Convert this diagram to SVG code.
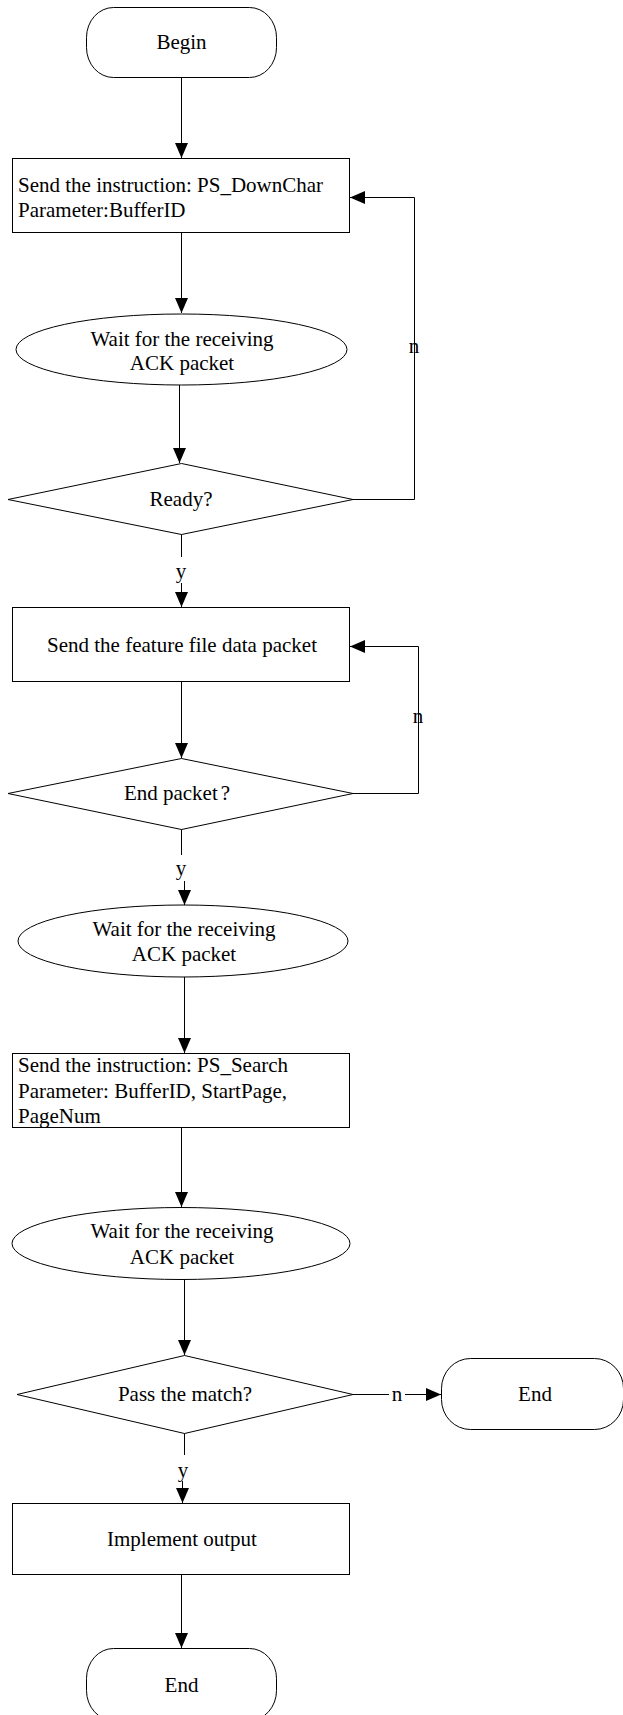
<svg xmlns="http://www.w3.org/2000/svg" width="623" height="1715" viewBox="0 0 623 1715">
<style>
.s{fill:#fff;stroke:#000;stroke-width:1}
.t{font-family:"Liberation Serif","Times New Roman",serif;font-size:21px;fill:#000}
.m{text-anchor:middle}
.c{fill:none;stroke:#000;stroke-width:1}
</style>
<defs>
<marker id="ah" markerUnits="userSpaceOnUse" markerWidth="15" markerHeight="13" refX="15" refY="6.5" orient="auto">
<path d="M0,0 L15,6.5 L0,13 z" fill="#000"/>
</marker>
</defs>
<rect width="623" height="1715" fill="#fff"/>
<g id="connectors">
<path class="c" d="M181.5,78 V158" marker-end="url(#ah)"/>
<path class="c" d="M181.5,233 V313" marker-end="url(#ah)"/>
<path class="c" d="M179.5,385 V463" marker-end="url(#ah)"/>
<path class="c" d="M181.5,534 V557"/>
<path class="c" d="M181.5,583 V607" marker-end="url(#ah)"/>
<text class="t m" x="181" y="578">y</text>
<path class="c" d="M353,499.5 H414.5 V338"/>
<path class="c" d="M414.5,357 V197.5 H350" marker-end="url(#ah)"/>
<text class="t m" x="414" y="353">n</text>
<path class="c" d="M181.5,682 V758" marker-end="url(#ah)"/>
<path class="c" d="M353,793.5 H418.5 V708"/>
<path class="c" d="M418.5,728 V646.5 H350" marker-end="url(#ah)"/>
<text class="t m" x="418" y="723">n</text>
<path class="c" d="M181.5,829 V855"/>
<path class="c" d="M184.5,881 V905" marker-end="url(#ah)"/>
<text class="t m" x="181" y="875">y</text>
<path class="c" d="M184.5,977 V1053" marker-end="url(#ah)"/>
<path class="c" d="M181.5,1128 V1207" marker-end="url(#ah)"/>
<path class="c" d="M184.5,1279 V1355" marker-end="url(#ah)"/>
<path class="c" d="M353,1394.5 H389"/>
<path class="c" d="M405,1394.5 H441" marker-end="url(#ah)"/>
<text class="t m" x="397" y="1401">n</text>
<path class="c" d="M184.5,1433 V1455"/>
<path class="c" d="M182.5,1481 V1503" marker-end="url(#ah)"/>
<text class="t m" x="183" y="1477">y</text>
<path class="c" d="M181.5,1575 V1648" marker-end="url(#ah)"/>
</g>
<g id="begin">
<rect class="s" x="86.5" y="7.5" width="190" height="70" rx="27" ry="30"/>
<text class="t m" x="181.5" y="49">Begin</text>
</g>
<g id="send-downchar">
<rect class="s" x="12.5" y="158.5" width="337" height="74"/>
<text class="t" x="18" y="192">Send the instruction: PS_DownChar</text>
<text class="t" x="18" y="217">Parameter:BufferID</text>
</g>
<g id="wait-ack-1">
<ellipse class="s" cx="181.5" cy="349.5" rx="165.5" ry="35.5"/>
<text class="t m" x="182" y="346">Wait for the receiving</text>
<text class="t m" x="182" y="370">ACK packet</text>
</g>
<g id="ready">
<polygon class="s" points="181.5,463.5 353,499.5 181.5,534.5 8,499.5"/>
<text class="t m" x="181" y="506">Ready?</text>
</g>
<g id="send-feature">
<rect class="s" x="12.5" y="607.5" width="337" height="74"/>
<text class="t m" x="182" y="652">Send the feature file data packet</text>
</g>
<g id="end-packet">
<polygon class="s" points="181.5,758.5 353,793.5 181.5,829.5 8,793.5"/>
<text class="t m" x="177" y="800">End packet<tspan dx="3">?</tspan></text>
</g>
<g id="wait-ack-2">
<ellipse class="s" cx="183" cy="941" rx="165" ry="36"/>
<text class="t m" x="184" y="936">Wait for the receiving</text>
<text class="t m" x="184" y="961">ACK packet</text>
</g>
<g id="send-search">
<rect class="s" x="12.5" y="1053.5" width="337" height="74"/>
<text class="t" x="18" y="1072">Send the instruction: PS_Search</text>
<text class="t" x="18" y="1098">Parameter: BufferID, StartPage,</text>
<text class="t" x="18" y="1123">PageNum</text>
</g>
<g id="wait-ack-3">
<ellipse class="s" cx="181" cy="1243.5" rx="169" ry="36"/>
<text class="t m" x="182" y="1238">Wait for the receiving</text>
<text class="t m" x="182" y="1264">ACK packet</text>
</g>
<g id="pass-match">
<polygon class="s" points="184.5,1355.5 353,1394.5 184.5,1433.5 17,1394.5"/>
<text class="t m" x="185" y="1401">Pass the match?</text>
</g>
<g id="end-fail">
<rect class="s" x="441.5" y="1358.5" width="182" height="71" rx="29" ry="30"/>
<text class="t m" x="535" y="1401">End</text>
</g>
<g id="implement-output">
<rect class="s" x="12.5" y="1503.5" width="337" height="71"/>
<text class="t m" x="182" y="1546">Implement output</text>
</g>
<g id="end">
<rect class="s" x="86.5" y="1648.5" width="190" height="72" rx="27" ry="30"/>
<text class="t m" x="181.5" y="1692">End</text>
</g>
</svg>
